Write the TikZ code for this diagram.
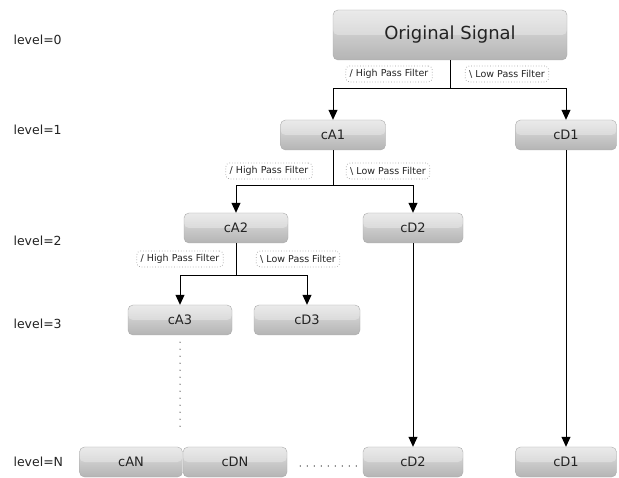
\documentclass[tikz,border=0pt]{standalone}
\usepackage{fontspec}
\setmainfont{DejaVu Sans}
\usetikzlibrary{positioning,arrows.meta,calc}
\definecolor{dwtEdge}{RGB}{170,170,170}
\definecolor{dwtTop}{RGB}{226,226,226}
\definecolor{dwtBottom}{RGB}{180,180,180}
\definecolor{dwtText}{RGB}{35,35,35}

\begin{document}
\begin{tikzpicture}[x=1pt,y=-1pt,
      box/.style={draw=dwtEdge,rounded corners=5pt,top color=dwtTop,bottom color=dwtBottom,
        minimum width=104pt,minimum height=30pt,inner sep=0pt,text=dwtText,font=\fontsize{13}{15}\selectfont,
        path picture={\fill[white,opacity=0.3] (path picture bounding box.north west) rectangle (path picture bounding box.east);}},
      filt/.style={draw=gray!75,line width=0.7pt,dotted,rounded corners=4pt,inner xsep=4pt,inner ysep=1pt,
        minimum height=16pt,text=dwtText,font=\fontsize{9.5}{10}\selectfont},
      lvl/.style={anchor=west,text=dwtText,font=\fontsize{12.5}{14}\selectfont},
      arr/.style={-{Triangle[length=10pt,width=9pt]},line width=0.9pt},
      ln/.style={line width=0.9pt},
      dotline/.style={line width=1.1pt,line cap=round,dash pattern=on 0pt off 7pt}]
    \useasboundingbox (0,0) rectangle (619,478);
    % level labels
    \node[lvl] (l0) at (10,40) {level=0};
    \node[lvl] (l1) at (10,130) {level=1};
    \node[lvl] (l2) at (10,241) {level=2};
    \node[lvl] (l3) at (10,324) {level=3};
    \node[lvl] (lN) at (10,462) {level=N};
    % tree
    \node[box,minimum width=234pt,minimum height=50pt,font=\fontsize{18}{20}\selectfont] (sig) at (450,35) {Original Signal};
    \node[box,minimum width=105pt] (cA1) at (333,135) {cA1};
    \node[box,minimum width=101pt] (cD1) at (566,135) {cD1};
    \node[box,minimum width=104pt] (cA2) at (236,228) {cA2};
    \node[box,minimum width=100pt] (cD2) at (413,228) {cD2};
    \node[box,minimum width=104pt] (cA3) at (180,320) {cA3};
    \node[box,minimum width=106pt] (cD3) at (307,320) {cD3};
    % last level
    \node[box,minimum width=103pt] (cAN) at (131,462) {cAN};
    \node[box,minimum width=104pt] (cDN) at (235,462) {cDN};
    \node[box,minimum width=100pt] (cD2N) at (413,462) {cD2};
    \node[box,minimum width=101pt] (cD1N) at (566,462) {cD1};
    % filters
    \node[filt] (hp0) at (389,74) {/ High Pass Filter};
    \node[filt] (lp0) at (507,74) {\textbackslash\ Low Pass Filter};
    \node[filt] (hp1) at (269,171) {/ High Pass Filter};
    \node[filt] (lp1) at (388,171) {\textbackslash\ Low Pass Filter};
    \node[filt] (hp2) at (180,259) {/ High Pass Filter};
    \node[filt] (lp2) at (298,259) {\textbackslash\ Low Pass Filter};
    % splits
    \draw[ln] (sig.south) -- ++(0,28) coordinate (s0);
    \draw[arr] (s0) -| (cA1);
    \draw[arr] (s0) -| (cD1);
    \draw[ln] (cA1.south) -- ++(0,35) coordinate (s1);
    \draw[arr] (s1) -| (cA2);
    \draw[arr] (s1) -| (cD2);
    \draw[ln] (cA2.south) -- ++(0,32) coordinate (s2);
    \draw[arr] (s2) -| (cA3);
    \draw[arr] (s2) -| (cD3);
    \draw[arr] (cD2) -- (cD2N);
    \draw[arr] (cD1) -- (cD1N);
    % omitted levels
    \coordinate (aEnd) at (180,432);
    \draw[dotline] ([yshift=-7pt]cA3.south) -- (aEnd);
    \draw[dotline] ([xshift=13pt,yshift=-4pt]cDN.east) -- ([xshift=-5pt,yshift=-4pt]cD2N.west);
  \end{tikzpicture}
\end{document}
